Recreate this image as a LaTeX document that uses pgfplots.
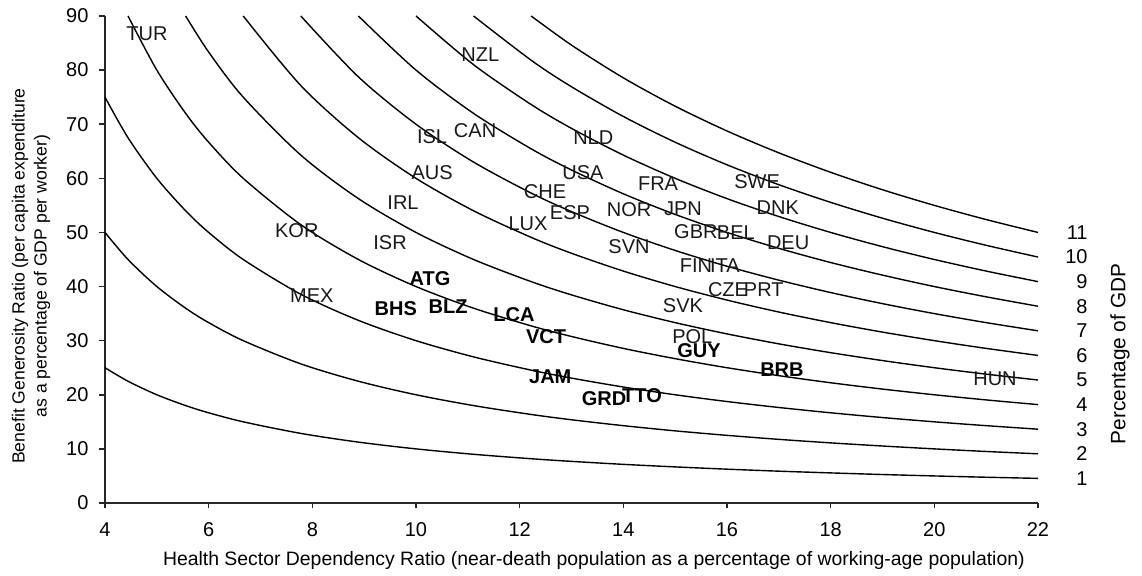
\documentclass[border=0pt]{standalone}
\usepackage{fontspec}
\setmainfont{Liberation Sans}
\usepackage{pgfplots}
\pgfplotsset{compat=1.18}
\usepackage{pgfplotstable}

\pgfplotstableread{
x k1 k2 k3 k4 k5 k6 k7 k8 k9 k10 k11
4 25 50 75 nan nan nan nan nan nan nan nan
4.444 22.5 45 67.5 90 nan nan nan nan nan nan nan
5 20 40 60 80 nan nan nan nan nan nan nan
5.556 18 36 54 72 90 nan nan nan nan nan nan
6 16.67 33.33 50 66.67 83.33 nan nan nan nan nan nan
6.667 15 30 45 60 75 90 nan nan nan nan nan
7.778 12.86 25.71 38.57 51.43 64.29 77.14 90 nan nan nan nan
8.889 11.25 22.5 33.75 45 56.25 67.5 78.75 90 nan nan nan
10 10 20 30 40 50 60 70 80 90 nan nan
11.111 9 18 27 36 45 54 63 72 81 90 nan
12.222 8.18 16.36 24.55 32.73 40.91 49.09 57.27 65.45 73.64 81.82 90
13 7.69 15.38 23.08 30.77 38.46 46.15 53.85 61.54 69.23 76.92 84.62
14 7.14 14.29 21.43 28.57 35.71 42.86 50 57.14 64.29 71.43 78.57
15 6.67 13.33 20 26.67 33.33 40 46.67 53.33 60 66.67 73.33
16 6.25 12.5 18.75 25 31.25 37.5 43.75 50 56.25 62.5 68.75
17 5.88 11.76 17.65 23.53 29.41 35.29 41.18 47.06 52.94 58.82 64.71
18 5.56 11.11 16.67 22.22 27.78 33.33 38.89 44.44 50 55.56 61.11
19 5.26 10.53 15.79 21.05 26.32 31.58 36.84 42.11 47.37 52.63 57.89
20 5 10 15 20 25 30 35 40 45 50 55
21 4.76 9.52 14.29 19.05 23.81 28.57 33.33 38.10 42.86 47.62 52.38
22 4.55 9.09 13.64 18.18 22.73 27.27 31.82 36.36 40.91 45.45 50
}\curves

\pgfplotstableread{
x y lab
4.81 86.7 TUR
11.24 82.8 NZL
10.31 67.8 ISL
11.14 68.9 CAN
13.42 67.6 NLD
10.31 61.0 AUS
13.22 61.0 USA
12.49 57.5 CHE
14.67 59.1 FRA
16.58 59.3 SWE
9.75 55.6 IRL
12.97 53.6 ESP
14.11 54.3 NOR
15.15 54.3 JPN
16.98 54.5 DNK
12.16 51.6 LUX
7.70 50.3 KOR
15.40 50.1 GBR
16.17 49.9 BEL
9.50 48.1 ISR
17.18 48.1 DEU
14.11 47.3 SVN
15.40 43.8 FIN
15.96 43.8 ITA
16.02 39.5 CZE
16.71 39.5 PRT
7.99 38.3 MEX
15.15 36.4 SVK
15.33 30.7 POL
21.17 22.9 HUN
}\countries

\pgfplotstableread{
x y lab
10.27 41.5 ATG
9.61 36.0 BHS
10.62 36.2 BLZ
11.89 34.9 LCA
12.51 30.7 VCT
12.59 23.3 JAM
13.63 19.2 GRD
14.36 19.8 TTO
15.46 28.1 GUY
17.06 24.6 BRB
}\caribbean

\pgfplotstableread{
x y lab
22 4.55 1
22 9.09 2
22 13.64 3
22 18.18 4
22 22.73 5
22 27.27 6
22 31.82 7
22 36.36 8
22 40.91 9
22 45.45 10
22 50 11
}\gdp

\begin{document}
\begin{tikzpicture}
\begin{axis}[
  name=ax,
  scale only axis,
  width=466.5pt, height=243.5pt,
  xmin=4, xmax=22, ymin=0, ymax=90,
  axis lines=left,
  axis line style={-, line width=0.8pt, black!85},
  xtick={4,6,...,22},
  ytick={0,10,...,90},
  tick align=outside,
  major tick length=2.75pt,
  tick style={line width=0.8pt, black!85},
  font=\fontsize{10}{11}\selectfont,
  /pgf/number format/assume math mode=true,
  xticklabel style={yshift=-3.5pt},
  yticklabel style={xshift=-2pt},
  xlabel={Health Sector Dependency Ratio (near-death population as a percentage of working-age population)},
  xlabel style={at={(axis description cs:0.524,-0.119)}, anchor=center, font=\fontsize{9.7}{11}\selectfont},
  ylabel={Benefit Generosity Ratio (per capita expenditure\\as a percentage of GDP per worker)},
  ylabel style={at={(axis description cs:-0.0793,0.466)}, anchor=center, align=center, font=\fontsize{8.8}{11}\selectfont},
  clip=false,
  curve/.style={black, line width=0.7pt, smooth, mark=none},
  lab/.style={draw=none, mark=none,
    nodes near coords, point meta=explicit symbolic},
]
\addplot[curve] table[x=x, y=k1] {\curves};
\addplot[curve] table[x=x, y=k2] {\curves};
\addplot[curve] table[x=x, y=k3] {\curves};
\addplot[curve] table[x=x, y=k4] {\curves};
\addplot[curve] table[x=x, y=k5] {\curves};
\addplot[curve] table[x=x, y=k6] {\curves};
\addplot[curve] table[x=x, y=k7] {\curves};
\addplot[curve] table[x=x, y=k8] {\curves};
\addplot[curve] table[x=x, y=k9] {\curves};
\addplot[curve] table[x=x, y=k10] {\curves};
\addplot[curve] table[x=x, y=k11] {\curves};

\addplot[lab, every node near coord/.append style={anchor=center, inner sep=0pt, text=black!90}]
  table[x=x, y=y, meta=lab] {\countries};
\addplot[lab, every node near coord/.append style={anchor=center, inner sep=0pt, text=black, font=\fontsize{10}{11}\selectfont\bfseries}]
  table[x=x, y=y, meta=lab] {\caribbean};
\addplot[lab, every node near coord/.append style={anchor=east, inner sep=0pt, xshift=25pt, text=black}]
  table[x=x, y=y, meta=lab] {\gdp};

\node[rotate=90, font=\fontsize{10.4}{12}\selectfont] at (axis description cs:1.088,0.306) {Percentage of GDP};
\end{axis}
\pgfresetboundingbox
\useasboundingbox ([xshift=-52.5pt,yshift=-36.5pt]ax.south west) rectangle ([xshift=52pt,yshift=8pt]ax.north east);
\end{tikzpicture}
\end{document}
